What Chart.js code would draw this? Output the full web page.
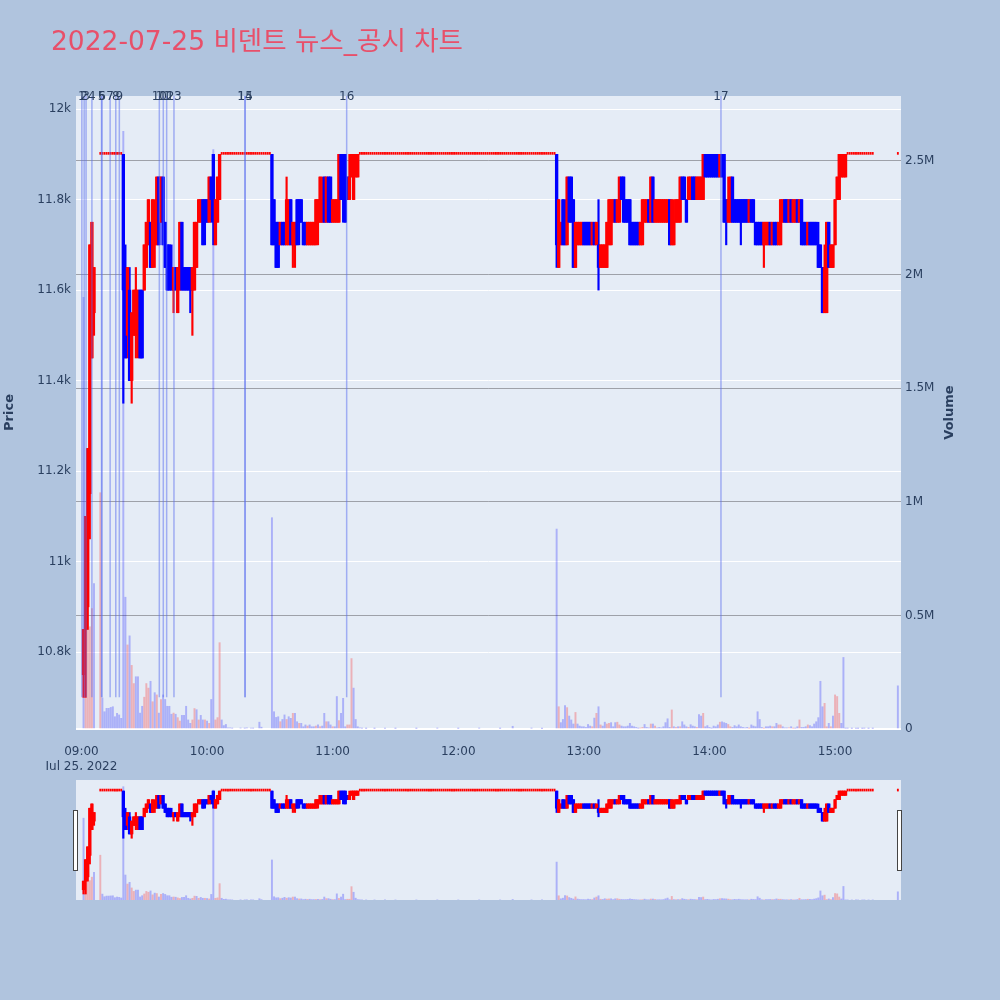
<!DOCTYPE html>
<html>
<head>
<meta charset="utf-8">
<script src="https://cdn.jsdelivr.net/npm/chart.js@4.4.0/dist/chart.umd.min.js"></script>
<style>
  html, body { margin: 0; padding: 0; background: #B0C4DE; }
  #wrap { position: relative; width: 1000px; height: 1000px; overflow: hidden; }
  #title { position: absolute; left: 51px; top: 28px; font-size: 26.5px; line-height: 26px;
           font-family: "DejaVu Sans", "Noto Sans CJK KR", sans-serif; color: #E8506A; white-space: nowrap; }
  #main { position: absolute; left: 0; top: 0; }
  #slider { position: absolute; left: 0; top: 780px; }
</style>
</head>
<body>
<div id="wrap">
  <canvas id="main" width="1000" height="770"></canvas>
  <canvas id="slider" width="1000" height="120"></canvas>
  <div id="title">2022-07-25 비덴트 뉴스_공시 차트</div>
</div>
<script>
// 1분봉 데이터 (인덱스 = 09:00 부터 경과 분), null = 거래 없음
const opens = [
  null, 10750, 10850, 10900, 11150, 11450, 11550, null, null, 11900,    // 09:00
  11900, 11900, 11900, 11900, 11900, 11900, 11900, 11900, 11900, 11900,
  11900, 11650, 11500, 11600, 11400, 11500, 11500, 11500, 11600, 11600, // 09:20
  11600, 11650, 11700, 11750, 11650, 11700, 11700, 11850, 11750, 11850,
  11750, 11700, 11700, 11650, 11600, 11650, 11550, 11600, 11750, 11650, // 09:40
  11650, 11650, 11650, 11600, 11600, 11650, 11750, 11750, 11800, 11800,
  11800, 11750, 11850, 11900, 11700, 11750, 11800, 11900, 11900, 11900, // 10:00
  11900, 11900, 11900, 11900, 11900, 11900, 11900, 11900, 11900, 11900,
  11900, 11900, 11900, 11900, 11900, 11900, 11900, 11900, 11900, 11900, // 10:20
  11900, 11900, 11800, 11750, 11750, 11700, 11750, 11750, 11700, 11700,
  11800, 11700, 11700, 11800, 11800, 11800, 11750, 11750, 11700, 11700, // 10:40
  11700, 11700, 11700, 11750, 11750, 11750, 11850, 11750, 11850, 11850,
  11750, 11750, 11750, 11750, 11900, 11900, 11900, 11850, 11800, 11850, // 11:00
  11800, 11850, 11850, 11900, 11900, 11900, 11900, 11900, 11900, 11900,
  11900, 11900, 11900, 11900, 11900, 11900, 11900, 11900, 11900, 11900, // 11:20
  11900, 11900, 11900, 11900, 11900, 11900, 11900, 11900, 11900, 11900,
  11900, 11900, 11900, 11900, 11900, 11900, 11900, 11900, 11900, 11900, // 11:40
  11900, 11900, 11900, 11900, 11900, 11900, 11900, 11900, 11900, 11900,
  11900, 11900, 11900, 11900, 11900, 11900, 11900, 11900, 11900, 11900, // 12:00
  11900, 11900, 11900, 11900, 11900, 11900, 11900, 11900, 11900, 11900,
  11900, 11900, 11900, 11900, 11900, 11900, 11900, 11900, 11900, 11900, // 12:20
  11900, 11900, 11900, 11900, 11900, 11900, 11900, 11900, 11900, 11900,
  11900, 11900, 11900, 11900, 11900, 11900, 11900, 11900, 11650, 11700, // 12:40
  11800, 11750, 11700, 11850, 11850, 11800, 11650, 11700, 11700, 11700,
  11750, 11750, 11750, 11750, 11700, 11750, 11700, 11700, 11650, 11650, // 13:00
  11650, 11650, 11700, 11700, 11750, 11800, 11750, 11750, 11850, 11850,
  11800, 11800, 11800, 11750, 11750, 11750, 11750, 11700, 11700, 11750, // 13:20
  11750, 11800, 11750, 11850, 11750, 11750, 11750, 11750, 11750, 11750,
  11750, 11800, 11700, 11700, 11750, 11750, 11750, 11850, 11850, 11800, // 13:40
  11800, 11800, 11850, 11850, 11800, 11800, 11800, 11800, 11900, 11900,
  11900, 11900, 11900, 11900, 11900, 11850, 11900, 11900, 11800, 11750, // 14:00
  11750, 11850, 11800, 11800, 11800, 11800, 11800, 11800, 11800, 11750,
  11800, 11800, 11750, 11750, 11750, 11750, 11700, 11700, 11700, 11750, // 14:20
  11700, 11750, 11750, 11700, 11700, 11750, 11800, 11800, 11750, 11800,
  11750, 11750, 11800, 11750, 11800, 11750, 11750, 11700, 11750, 11750, // 14:40
  11750, 11750, 11700, 11700, 11650, 11550, 11550, 11750, 11650, 11650,
  11700, 11800, 11800, 11850, 11850, 11850, 11900, 11900, 11900, 11900, // 15:00
  11900, 11900, 11900, 11900, 11900, 11900, 11900, 11900, 11900, null,
  null, null, null, null, null, null, null, null, null, null,           // 15:20
  11900
];
const highs = [
  null, 10850, 11100, 11250, 11700, 11750, 11650, null, null, 11900,
  11900, 11900, 11900, 11900, 11900, 11900, 11900, 11900, 11900, 11900,
  11900, 11700, 11650, 11650, 11550, 11600, 11650, 11600, 11600, 11600,
  11700, 11750, 11800, 11750, 11800, 11800, 11850, 11850, 11850, 11850,
  11750, 11700, 11700, 11700, 11650, 11650, 11650, 11750, 11750, 11650,
  11650, 11650, 11650, 11650, 11750, 11750, 11800, 11800, 11800, 11800,
  11800, 11850, 11850, 11900, 11800, 11850, 11900, 11900, 11900, 11900,
  11900, 11900, 11900, 11900, 11900, 11900, 11900, 11900, 11900, 11900,
  11900, 11900, 11900, 11900, 11900, 11900, 11900, 11900, 11900, 11900,
  11900, 11900, 11800, 11750, 11750, 11750, 11750, 11750, 11850, 11800,
  11800, 11750, 11750, 11800, 11800, 11800, 11750, 11750, 11750, 11750,
  11750, 11750, 11800, 11800, 11850, 11850, 11850, 11850, 11850, 11850,
  11800, 11800, 11800, 11900, 11900, 11900, 11900, 11850, 11900, 11900,
  11900, 11900, 11900, 11900, 11900, 11900, 11900, 11900, 11900, 11900,
  11900, 11900, 11900, 11900, 11900, 11900, 11900, 11900, 11900, 11900,
  11900, 11900, 11900, 11900, 11900, 11900, 11900, 11900, 11900, 11900,
  11900, 11900, 11900, 11900, 11900, 11900, 11900, 11900, 11900, 11900,
  11900, 11900, 11900, 11900, 11900, 11900, 11900, 11900, 11900, 11900,
  11900, 11900, 11900, 11900, 11900, 11900, 11900, 11900, 11900, 11900,
  11900, 11900, 11900, 11900, 11900, 11900, 11900, 11900, 11900, 11900,
  11900, 11900, 11900, 11900, 11900, 11900, 11900, 11900, 11900, 11900,
  11900, 11900, 11900, 11900, 11900, 11900, 11900, 11900, 11900, 11900,
  11900, 11900, 11900, 11900, 11900, 11900, 11900, 11900, 11800, 11750,
  11800, 11800, 11850, 11850, 11850, 11800, 11750, 11750, 11750, 11750,
  11750, 11750, 11750, 11750, 11750, 11750, 11750, 11800, 11700, 11700,
  11700, 11750, 11800, 11800, 11800, 11800, 11800, 11850, 11850, 11850,
  11800, 11800, 11800, 11750, 11750, 11750, 11750, 11750, 11800, 11800,
  11800, 11800, 11850, 11850, 11800, 11800, 11800, 11800, 11800, 11800,
  11800, 11800, 11800, 11800, 11800, 11800, 11850, 11850, 11850, 11800,
  11850, 11850, 11850, 11850, 11850, 11850, 11850, 11900, 11900, 11900,
  11900, 11900, 11900, 11900, 11900, 11900, 11900, 11900, 11800, 11850,
  11850, 11850, 11800, 11800, 11800, 11800, 11800, 11800, 11800, 11800,
  11800, 11800, 11750, 11750, 11750, 11750, 11750, 11750, 11750, 11750,
  11750, 11750, 11750, 11750, 11800, 11800, 11800, 11800, 11800, 11800,
  11800, 11800, 11800, 11800, 11800, 11750, 11750, 11750, 11750, 11750,
  11750, 11750, 11750, 11700, 11650, 11700, 11750, 11750, 11700, 11700,
  11800, 11850, 11900, 11900, 11900, 11900, 11900, 11900, 11900, 11900,
  11900, 11900, 11900, 11900, 11900, 11900, 11900, 11900, 11900, null,
  null, null, null, null, null, null, null, null, null, null,
  11900
];
const lows = [
  null, 10700, 10700, 10850, 11050, 11450, 11500, null, null, 11900,
  11900, 11900, 11900, 11900, 11900, 11900, 11900, 11900, 11900, 11900,
  11350, 11450, 11450, 11400, 11350, 11500, 11450, 11450, 11450, 11450,
  11600, 11650, 11700, 11650, 11650, 11650, 11700, 11700, 11750, 11700,
  11650, 11600, 11600, 11600, 11550, 11600, 11550, 11600, 11600, 11600,
  11600, 11600, 11550, 11500, 11600, 11650, 11750, 11750, 11700, 11700,
  11750, 11750, 11750, 11700, 11700, 11750, 11800, 11900, 11900, 11900,
  11900, 11900, 11900, 11900, 11900, 11900, 11900, 11900, 11900, 11900,
  11900, 11900, 11900, 11900, 11900, 11900, 11900, 11900, 11900, 11900,
  11900, 11700, 11700, 11650, 11650, 11700, 11700, 11700, 11700, 11700,
  11700, 11650, 11650, 11700, 11700, 11750, 11700, 11700, 11700, 11700,
  11700, 11700, 11700, 11700, 11750, 11750, 11750, 11750, 11750, 11750,
  11750, 11750, 11750, 11750, 11800, 11750, 11750, 11800, 11800, 11850,
  11800, 11850, 11850, 11900, 11900, 11900, 11900, 11900, 11900, 11900,
  11900, 11900, 11900, 11900, 11900, 11900, 11900, 11900, 11900, 11900,
  11900, 11900, 11900, 11900, 11900, 11900, 11900, 11900, 11900, 11900,
  11900, 11900, 11900, 11900, 11900, 11900, 11900, 11900, 11900, 11900,
  11900, 11900, 11900, 11900, 11900, 11900, 11900, 11900, 11900, 11900,
  11900, 11900, 11900, 11900, 11900, 11900, 11900, 11900, 11900, 11900,
  11900, 11900, 11900, 11900, 11900, 11900, 11900, 11900, 11900, 11900,
  11900, 11900, 11900, 11900, 11900, 11900, 11900, 11900, 11900, 11900,
  11900, 11900, 11900, 11900, 11900, 11900, 11900, 11900, 11900, 11900,
  11900, 11900, 11900, 11900, 11900, 11900, 11900, 11650, 11650, 11700,
  11700, 11700, 11700, 11750, 11750, 11650, 11650, 11700, 11700, 11700,
  11700, 11700, 11700, 11700, 11700, 11700, 11700, 11600, 11650, 11650,
  11650, 11650, 11700, 11700, 11750, 11750, 11750, 11750, 11800, 11750,
  11750, 11750, 11700, 11700, 11700, 11700, 11700, 11700, 11700, 11750,
  11750, 11750, 11750, 11750, 11750, 11750, 11750, 11750, 11750, 11750,
  11750, 11700, 11700, 11700, 11750, 11750, 11750, 11800, 11800, 11750,
  11800, 11800, 11800, 11800, 11800, 11800, 11800, 11800, 11850, 11850,
  11850, 11850, 11850, 11850, 11850, 11850, 11850, 11750, 11700, 11750,
  11750, 11750, 11750, 11750, 11750, 11700, 11750, 11750, 11750, 11750,
  11750, 11750, 11700, 11700, 11700, 11700, 11650, 11700, 11700, 11700,
  11700, 11700, 11700, 11700, 11700, 11750, 11750, 11750, 11750, 11750,
  11750, 11750, 11750, 11750, 11700, 11700, 11700, 11700, 11700, 11700,
  11700, 11700, 11650, 11650, 11550, 11550, 11550, 11650, 11650, 11650,
  11700, 11800, 11800, 11850, 11850, 11850, 11900, 11900, 11900, 11900,
  11900, 11900, 11900, 11900, 11900, 11900, 11900, 11900, 11900, null,
  null, null, null, null, null, null, null, null, null, null,
  11900
];
const closes = [
  null, 10850, 11100, 11250, 11700, 11750, 11650, null, null, 11900,
  11900, 11900, 11900, 11900, 11900, 11900, 11900, 11900, 11900, 11900,
  11600, 11450, 11650, 11400, 11550, 11600, 11600, 11600, 11450, 11450,
  11700, 11750, 11800, 11650, 11800, 11750, 11850, 11700, 11850, 11700,
  11650, 11600, 11600, 11600, 11650, 11600, 11650, 11750, 11600, 11600,
  11600, 11600, 11600, 11650, 11750, 11750, 11800, 11800, 11700, 11750,
  11750, 11850, 11800, 11750, 11800, 11850, 11900, 11900, 11900, 11900,
  11900, 11900, 11900, 11900, 11900, 11900, 11900, 11900, 11900, 11900,
  11900, 11900, 11900, 11900, 11900, 11900, 11900, 11900, 11900, 11900,
  11900, 11700, 11700, 11650, 11650, 11750, 11700, 11700, 11800, 11800,
  11700, 11750, 11750, 11700, 11750, 11750, 11700, 11700, 11750, 11750,
  11750, 11750, 11800, 11800, 11850, 11800, 11750, 11850, 11750, 11750,
  11800, 11800, 11800, 11900, 11800, 11800, 11750, 11800, 11850, 11900,
  11900, 11900, 11900, 11900, 11900, 11900, 11900, 11900, 11900, 11900,
  11900, 11900, 11900, 11900, 11900, 11900, 11900, 11900, 11900, 11900,
  11900, 11900, 11900, 11900, 11900, 11900, 11900, 11900, 11900, 11900,
  11900, 11900, 11900, 11900, 11900, 11900, 11900, 11900, 11900, 11900,
  11900, 11900, 11900, 11900, 11900, 11900, 11900, 11900, 11900, 11900,
  11900, 11900, 11900, 11900, 11900, 11900, 11900, 11900, 11900, 11900,
  11900, 11900, 11900, 11900, 11900, 11900, 11900, 11900, 11900, 11900,
  11900, 11900, 11900, 11900, 11900, 11900, 11900, 11900, 11900, 11900,
  11900, 11900, 11900, 11900, 11900, 11900, 11900, 11900, 11900, 11900,
  11900, 11900, 11900, 11900, 11900, 11900, 11900, 11700, 11800, 11750,
  11700, 11700, 11850, 11750, 11750, 11650, 11750, 11750, 11750, 11750,
  11700, 11700, 11700, 11700, 11750, 11700, 11750, 11650, 11700, 11700,
  11700, 11750, 11800, 11800, 11800, 11750, 11800, 11850, 11800, 11750,
  11750, 11750, 11700, 11700, 11700, 11700, 11700, 11750, 11800, 11800,
  11800, 11750, 11850, 11750, 11800, 11800, 11800, 11800, 11800, 11800,
  11800, 11700, 11800, 11750, 11800, 11800, 11850, 11800, 11800, 11750,
  11850, 11850, 11800, 11800, 11850, 11850, 11850, 11900, 11850, 11850,
  11850, 11850, 11850, 11850, 11850, 11900, 11850, 11750, 11750, 11800,
  11850, 11750, 11750, 11750, 11750, 11750, 11750, 11750, 11750, 11800,
  11750, 11750, 11700, 11700, 11700, 11700, 11750, 11750, 11750, 11700,
  11750, 11700, 11700, 11750, 11800, 11800, 11750, 11750, 11800, 11750,
  11800, 11800, 11750, 11800, 11700, 11700, 11700, 11750, 11700, 11700,
  11700, 11700, 11650, 11650, 11550, 11650, 11750, 11650, 11700, 11700,
  11800, 11850, 11900, 11900, 11900, 11900, 11900, 11900, 11900, 11900,
  11900, 11900, 11900, 11900, 11900, 11900, 11900, 11900, 11900, null,
  null, null, null, null, null, null, null, null, null, null,
  11900
];
const volumes = [
  null, 1900000, 900000, 880000, 450000, 530000, 640000, null, null, 1040000,
  137000, 76000, 91000, 91000, 95000, 98000, 54000, 69000, 62000, 47000,
  2630000, 580000, 370000, 410000, 280000, 200000, 230000, 230000, 70000, 100000,
  140000, 200000, 180000, 210000, 120000, 160000, 150000, 70000, 130000, 150000,
  130000, 100000, 100000, 65000, 70000, 65000, 50000, 35000, 60000, 60000,
  100000, 40000, 25000, 40000, 90000, 85000, 40000, 60000, 40000, 40000,
  35000, 25000, 130000, 2550000, 40000, 50000, 380000, 40000, 15000, 20000,
  5000, 5000, 3000, 0, 0, 0, 4000, 0, 3000, 5000,
  0, 4000, 3000, 0, 0, 30000, 8000, 0, 0, 0,
  0, 930000, 76000, 51000, 54000, 32000, 42000, 62000, 42000, 54000,
  47000, 69000, 69000, 32000, 25000, 25000, 10000, 18000, 13000, 18000,
  10000, 10000, 13000, 18000, 10000, 13000, 69000, 32000, 32000, 18000,
  10000, 10000, 143000, 37000, 69000, 135000, 10000, 18000, 18000, 310000,
  180000, 42000, 10000, 5000, 3000, 0, 2000, 0, 0, 0,
  2000, 0, 0, 0, 0, 3000, 0, 0, 0, 0,
  2000, 0, 0, 0, 0, 0, 0, 0, 0, 0,
  2000, 0, 0, 0, 0, 0, 0, 0, 0, 0,
  3000, 0, 0, 0, 0, 0, 0, 0, 0, 0,
  2000, 0, 0, 0, 0, 0, 0, 0, 0, 0,
  3000, 0, 0, 0, 0, 0, 0, 0, 0, 0,
  2000, 0, 0, 0, 0, 0, 12000, 0, 0, 0,
  0, 0, 0, 0, 0, 3000, 0, 0, 0, 0,
  2000, 0, 0, 0, 0, 0, 0, 880000, 98000, 28000,
  42000, 103000, 94000, 57000, 40000, 22000, 73000, 22000, 13000, 10000,
  10000, 7000, 20000, 13000, 10000, 48000, 69000, 98000, 18000, 13000,
  30000, 22000, 25000, 28000, 10000, 28000, 30000, 18000, 13000, 10000,
  10000, 13000, 25000, 13000, 10000, 7000, 3000, 4000, 7000, 20000,
  7000, 5000, 22000, 22000, 13000, 5000, 7000, 5000, 10000, 28000,
  45000, 7000, 84000, 10000, 7000, 10000, 10000, 32000, 18000, 10000,
  7000, 19000, 13000, 10000, 7000, 63000, 57000, 69000, 10000, 15000,
  7000, 3000, 13000, 10000, 18000, 30000, 32000, 28000, 25000, 20000,
  10000, 7000, 15000, 10000, 18000, 10000, 7000, 5000, 7000, 3000,
  18000, 13000, 10000, 76000, 42000, 7000, 3000, 10000, 10000, 13000,
  10000, 10000, 25000, 18000, 18000, 10000, 5000, 5000, 5000, 10000,
  3000, 3000, 10000, 40000, 7000, 7000, 10000, 18000, 15000, 10000,
  22000, 32000, 50000, 210000, 98000, 113000, 10000, 25000, 10000, 57000,
  150000, 143000, 69000, 25000, 315000, 3000, 3000, 0, 2000, 0,
  3000, 2000, 0, 2000, 3000, 0, 2000, 0, 2000, null,
  null, null, null, null, null, null, null, null, null, null,
  190000
];

// 뉴스/공시 시점 (분) 과 번호
const newsMinutes = [0.2, 1.3, 2.2, 5.0, 9.6, 9.8, 13.7, 16.4, 18.1, 37.2, 39.1, 40.7, 44.2, 78.1, 78.2, 126.7, 305.5];
const newsLabels = ['1', '2', '3', '4', '5', '6', '7', '8', '9', '10', '11', '12', '13', '14', '15', '16', '17'];

const timeTicks = [0, 60, 120, 180, 240, 300, 360];
const timeLabels = ['09:00', '10:00', '11:00', '12:00', '13:00', '14:00', '15:00'];
const dateLabel = 'Jul 25, 2022';
const priceTicks = [10800, 11000, 11200, 11400, 11600, 11800, 12000];
const priceLabels = ['10.8k', '11k', '11.2k', '11.4k', '11.6k', '11.8k', '12k'];
const volumeTicks = [0, 500000, 1000000, 1500000, 2000000, 2500000];
const volumeLabels = ['0', '0.5M', '1M', '1.5M', '2M', '2.5M'];

const X_MIN = -2.6, X_MAX = 391.5;
const P_MIN = 10630, P_MAX = 12029;
const V_MAX = 2786000;

const UP = '#FF0000', DOWN = '#0000FF';
const VOL_UP = 'rgba(255,0,0,0.25)', VOL_DOWN = 'rgba(0,0,255,0.25)';
const TEXT = '#2a3f5f';
const FONT = '"DejaVu Sans", "Noto Sans CJK KR", sans-serif';
const PLOT_BG = '#E5ECF6';

Chart.defaults.font.family = FONT;

function buildDatasets() {
  const wick = [], wickColor = [], body = [], bodyColor = [], flat = [], vol = [], volColor = [];
  let prevClose = null;
  for (let i = 0; i < opens.length; i++) {
    if (opens[i] === null) continue;
    const o = opens[i], h = highs[i], l = lows[i], c = closes[i];
    const col = c >= o ? UP : DOWN;
    if (h === l) {
      flat.push({ x: i, y: [l, h] });
    } else {
      wick.push({ x: i, y: [l, h] });
      wickColor.push(col);
      body.push({ x: i, y: [Math.min(o, c), Math.max(o, c)] });
      bodyColor.push(col);
    }
    if (volumes[i] > 0) {
      vol.push({ x: i, y: volumes[i] });
      volColor.push(prevClose !== null && c > prevClose ? VOL_UP : VOL_DOWN);
    }
    prevClose = c;
  }
  return [
    { data: vol, yAxisID: 'yv', backgroundColor: volColor, barThickness: 1.3, grouped: false, order: 4 },
    { data: wick, yAxisID: 'y', backgroundColor: wickColor, barThickness: 1.5, grouped: false, order: 3 },
    { data: body, yAxisID: 'y', backgroundColor: bodyColor, barThickness: 2.7, grouped: false, minBarLength: 2, order: 2 },
    { data: flat, yAxisID: 'y', backgroundColor: UP, barThickness: 1.2, grouped: false, minBarLength: 2, order: 1 }
  ];
}

const plotBg = {
  id: 'plotBg',
  beforeDraw(chart) {
    const { ctx, chartArea: a } = chart;
    ctx.save();
    ctx.fillStyle = PLOT_BG;
    ctx.fillRect(a.left, a.top, a.right - a.left, a.bottom - a.top);
    ctx.restore();
  }
};

// 뉴스 세로선과 번호
const newsPlugin = {
  id: 'news',
  afterDatasetsDraw(chart) {
    const { ctx, chartArea: a, scales } = chart;
    const yLow = scales.y.getPixelForValue(Math.min(...lows.filter(v => v !== null)));
    ctx.save();
    ctx.strokeStyle = 'rgba(90,110,240,0.5)';
    ctx.lineWidth = 1.5;
    newsMinutes.forEach(m => {
      const x = scales.x.getPixelForValue(m);
      ctx.beginPath();
      ctx.moveTo(x, a.top);
      ctx.lineTo(x, yLow);
      ctx.stroke();
    });
    ctx.fillStyle = TEXT;
    ctx.font = '12px ' + FONT;
    ctx.textAlign = 'center';
    ctx.textBaseline = 'middle';
    newsMinutes.forEach((m, i) => ctx.fillText(newsLabels[i], scales.x.getPixelForValue(m), a.top + 1));
    ctx.restore();
  }
};

const volumeTitle = {
  id: 'volumeTitle',
  afterDraw(chart) {
    const { ctx, chartArea: a, scales } = chart;
    ctx.save();
    ctx.translate(scales.yv.right - 10, (a.top + a.bottom) / 2);
    ctx.rotate(-Math.PI / 2);
    ctx.fillStyle = TEXT;
    ctx.font = 'bold 13px ' + FONT;
    ctx.textAlign = 'center';
    ctx.textBaseline = 'middle';
    ctx.fillText('Volume', 0, 0);
    ctx.restore();
  }
};

new Chart(document.getElementById('main'), {
  type: 'bar',
  data: { datasets: buildDatasets() },
  options: {
    responsive: false,
    animation: false,
    events: [],
    layout: { padding: { top: 96, left: 0, right: 40, bottom: 0 } },
    plugins: { legend: { display: false }, tooltip: { enabled: false } },
    scales: {
      x: {
        type: 'linear', min: X_MIN, max: X_MAX, offset: false,
        grid: { display: false }, border: { display: false },
        afterBuildTicks: s => { s.ticks = timeTicks.map(v => ({ value: v })); },
        afterFit: s => { s.height = 41; },
        ticks: {
          autoSkip: false, maxRotation: 0, padding: 8, color: TEXT, font: { size: 12 },
          callback: v => {
            const k = timeTicks.indexOf(v);
            return k === 0 ? [timeLabels[0], dateLabel] : timeLabels[k];
          }
        }
      },
      y: {
        position: 'left', min: P_MIN, max: P_MAX,
        grid: { color: '#FFFFFF', lineWidth: 1, drawTicks: false }, border: { display: false },
        afterBuildTicks: s => { s.ticks = priceTicks.map(v => ({ value: v })); },
        afterFit: s => { s.width = 76; },
        ticks: { padding: 5, color: TEXT, font: { size: 12 }, callback: v => priceLabels[priceTicks.indexOf(v)] },
        title: { display: true, text: 'Price', color: TEXT, font: { size: 13, weight: 'bold' }, padding: 2 }
      },
      yv: {
        position: 'right', min: 0, max: V_MAX,
        grid: {
          drawTicks: false,
          color: c => c.tick && c.tick.value === 0 ? '#FFFFFF' : 'rgba(100,100,105,0.55)',
          lineWidth: c => c.tick && c.tick.value === 0 ? 2 : 1
        },
        border: { display: false },
        afterBuildTicks: s => { s.ticks = volumeTicks.map(v => ({ value: v })); },
        afterFit: s => { s.width = 59; },
        ticks: { padding: 4, color: TEXT, font: { size: 12 }, callback: v => volumeLabels[volumeTicks.indexOf(v)] }
      }
    }
  },
  plugins: [plotBg, newsPlugin, volumeTitle]
});

// 레인지 슬라이더 (축소 미리보기)
const sliderHandles = {
  id: 'sliderHandles',
  afterDraw(chart) {
    const { ctx, chartArea: a } = chart;
    const h = (a.bottom - a.top) / 2;
    const yTop = a.top + h / 2;
    ctx.save();
    ctx.fillStyle = '#FFFFFF';
    ctx.strokeStyle = '#444444';
    ctx.lineWidth = 1;
    [a.left - 3, a.right - 4].forEach(x => {
      ctx.fillRect(x + 0.5, yTop + 0.5, 4, h);
      ctx.strokeRect(x + 0.5, yTop + 0.5, 4, h);
    });
    ctx.restore();
  }
};

new Chart(document.getElementById('slider'), {
  type: 'bar',
  data: { datasets: buildDatasets() },
  options: {
    responsive: false,
    animation: false,
    events: [],
    layout: { padding: { top: 0, left: 76, right: 99, bottom: 0 } },
    plugins: { legend: { display: false }, tooltip: { enabled: false } },
    scales: {
      x: { type: 'linear', min: X_MIN, max: X_MAX, offset: false, display: false },
      y: { position: 'left', min: P_MIN, max: P_MAX, display: false },
      yv: { position: 'right', min: 0, max: V_MAX, display: false }
    }
  },
  plugins: [plotBg, sliderHandles]
});
</script>
</body>
</html>
